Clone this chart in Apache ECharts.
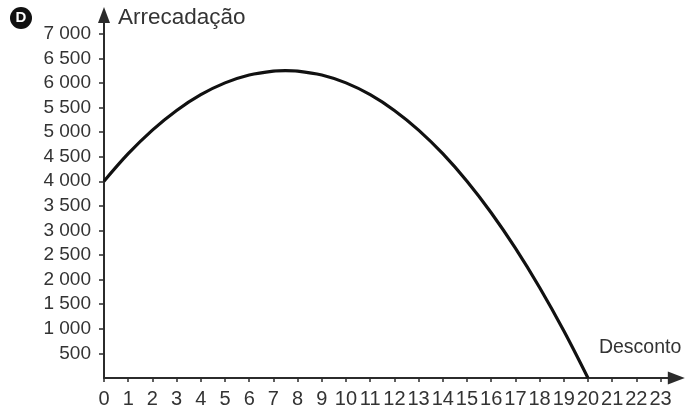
<!DOCTYPE html>
<html>
<head>
<meta charset="utf-8">
<title>Arrecadação x Desconto</title>
<script src="https://cdn.jsdelivr.net/npm/echarts@6/dist/echarts.min.js"></script>
<style>
  html, body { margin: 0; padding: 0; background: #ffffff; }
  #chart { width: 693px; height: 409px; }
</style>
</head>
<body>
<div id="chart"></div>
<script>
// Desconto (x) and arrecadação (y)
const discount = [0, 1, 2, 3, 4, 5, 6, 7, 7.5, 8, 9, 10, 11, 12, 13, 14, 15, 16, 17, 18, 19, 20];
const revenue = [4000, 4560, 5040, 5440, 5760, 6000, 6160, 6240, 6250, 6240, 6160, 6000, 5760, 5440, 5040, 4560, 4000, 3360, 2640, 1840, 960, 0];

// Tick positions on each axis
const xTicks = [0, 1, 2, 3, 4, 5, 6, 7, 8, 9, 10, 11, 12, 13, 14, 15, 16, 17, 18, 19, 20, 21, 22, 23];
const yTicks = [500, 1000, 1500, 2000, 2500, 3000, 3500, 4000, 4500, 5000, 5500, 6000, 6500, 7000];

const FONT = '"Liberation Sans", Arial, sans-serif';
const INK = '#2b2b2b';
const TEXT = '#333333';

// "7000" -> "7 000"
function thousands(v) {
  return String(v).replace(/\B(?=(\d{3})+(?!\d))/g, ' ');
}

const chart = echarts.init(document.getElementById('chart'));
chart.setOption({
  animation: false,
  backgroundColor: '#ffffff',
  // axes run a little past the last tick so the arrow heads sit beyond it
  grid: { left: 104, right: 16.7, top: 15, bottom: 29, containLabel: false },
  xAxis: {
    type: 'value',
    min: 0,
    max: 23.65,
    name: 'Desconto',
    nameLocation: 'end',
    nameGap: 5,
    nameTextStyle: {
      fontFamily: FONT, fontSize: 19.5, color: TEXT,
      align: 'right', verticalAlign: 'bottom', padding: [0, 0, 20, 0]
    },
    splitLine: { show: false },
    axisLine: {
      onZero: false,
      symbol: ['none', 'triangle'],
      symbolSize: [13, 17],
      lineStyle: { color: INK, width: 2 }
    },
    axisTick: {
      show: true, inside: false, length: 4, customValues: xTicks,
      lineStyle: { color: INK, width: 1.5 }
    },
    axisLabel: {
      customValues: xTicks,
      margin: 11,
      fontFamily: FONT, fontSize: 20, color: TEXT,
      formatter: v => String(v)
    }
  },
  yAxis: {
    type: 'value',
    min: 0,
    max: 7380,
    name: 'Arrecadação',
    nameLocation: 'end',
    nameGap: -3,
    nameTextStyle: {
      fontFamily: FONT, fontSize: 22.5, color: TEXT,
      align: 'left', verticalAlign: 'middle', padding: [0, 0, 0, 14]
    },
    splitLine: { show: false },
    axisLine: {
      onZero: false,
      symbol: ['none', 'triangle'],
      symbolSize: [12, 16],
      lineStyle: { color: INK, width: 2 }
    },
    axisTick: {
      show: true, inside: false, length: 5, customValues: yTicks,
      lineStyle: { color: INK, width: 1.5 }
    },
    axisLabel: {
      customValues: yTicks,
      margin: 13,
      fontFamily: FONT, fontSize: 19, color: TEXT,
      formatter: v => thousands(v)
    }
  },
  series: [{
    type: 'line',
    data: discount.map((d, i) => [d, revenue[i]]),
    smooth: 0.35,
    showSymbol: false,
    lineStyle: { color: '#111111', width: 3.2 },
    z: 3
  }],
  graphic: [
    { type: 'circle', shape: { cx: 21, cy: 18, r: 11 }, style: { fill: '#111111' } },
    {
      type: 'text', x: 21, y: 18,
      style: {
        text: 'D', fill: '#ffffff', font: 'bold 15px ' + FONT,
        align: 'center', verticalAlign: 'middle'
      }
    }
  ]
});
</script>
</body>
</html>
